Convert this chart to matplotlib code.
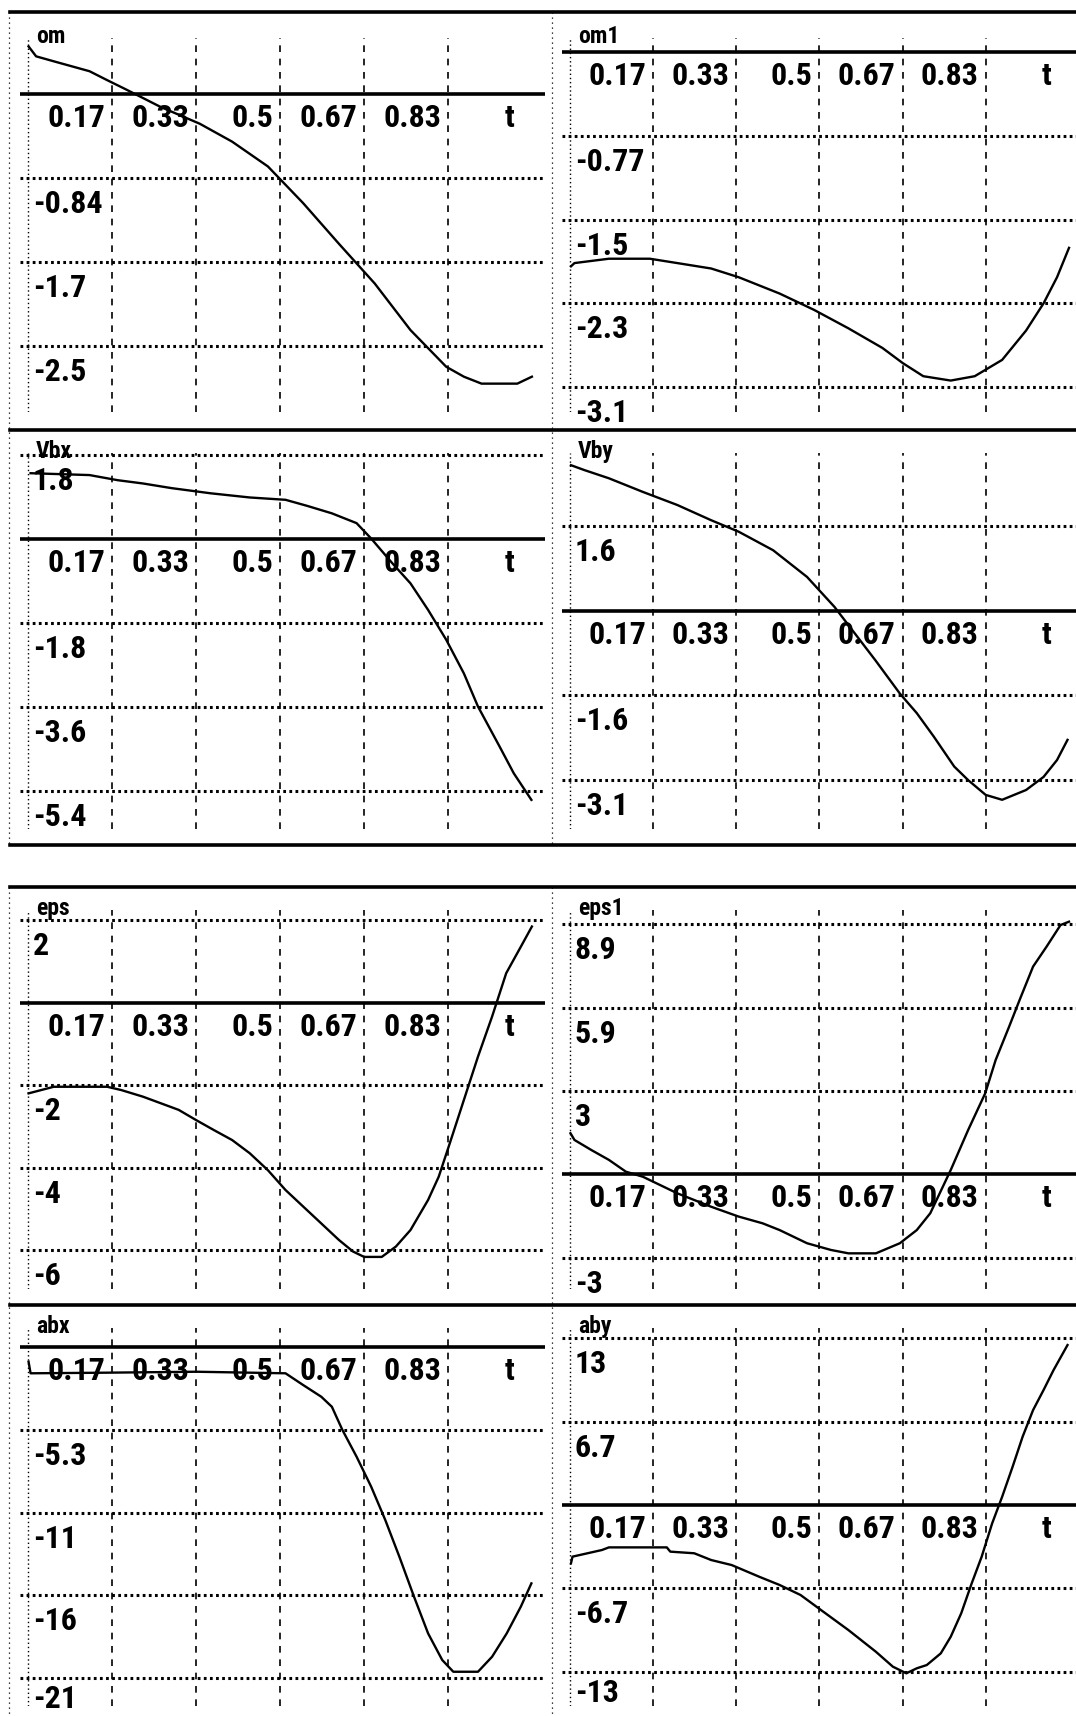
import matplotlib
matplotlib.use('Agg')
import matplotlib.pyplot as plt
from matplotlib import font_manager
from matplotlib.lines import Line2D

W, H = 1076, 1716

# pick the narrowest installed face for the tall printer digits
font_names = {f.name for f in font_manager.fontManager.ttflist}
if 'Liberation Sans Narrow' in font_names:
    fam, num_size, name_size = 'Liberation Sans Narrow', 24, 18
elif 'Roboto Condensed' in font_names:
    fam, num_size, name_size = 'Roboto Condensed', 23, 17
else:
    fam, num_size, name_size = 'Liberation Sans', 21, 16
plt.rcParams['font.family'] = [fam, 'DejaVu Sans']

# shared time axis
t_ticks = [1/6, 2/6, 3/6, 4/6, 5/6]
t_labels = ['0.17', '0.33', '0.5', '0.67', '0.83']

# om
t_om = [0.001, 0.016, 0.051, 0.122, 0.157, 0.193, 0.263, 0.341, 0.405, 0.476,
        0.546, 0.617, 0.688, 0.759, 0.830, 0.865, 0.900, 0.971, 1.0]
om = [0.48, 0.38, 0.33, 0.23, 0.14, 0.05, -0.13, -0.30, -0.48, -0.73,
      -1.10, -1.51, -1.91, -2.38, -2.75, -2.85, -2.92, -2.92, -2.85]

# om1
t_om1 = [0.002, 0.009, 0.078, 0.160, 0.215, 0.283, 0.338, 0.420, 0.489, 0.558,
         0.626, 0.667, 0.708, 0.763, 0.811, 0.866, 0.914, 0.949, 0.976, 1.0]
om1 = [-1.97, -1.94, -1.90, -1.90, -1.94, -1.99, -2.07, -2.22, -2.37, -2.54,
       -2.72, -2.86, -2.98, -3.02, -2.98, -2.83, -2.56, -2.31, -2.07, -1.80]

# Vbx
t_vbx = [0.005, 0.122, 0.178, 0.228, 0.285, 0.362, 0.440, 0.511, 0.554, 0.603,
         0.652, 0.681, 0.723, 0.759, 0.794, 0.830, 0.865, 0.893, 0.936, 0.964, 0.999]
vbx = [1.41, 1.37, 1.26, 1.19, 1.09, 0.98, 0.89, 0.84, 0.71, 0.55,
       0.34, 0.01, -0.52, -0.95, -1.52, -2.16, -2.88, -3.59, -4.45, -5.02, -5.59]

# Vby
t_vby = [0.002, 0.029, 0.078, 0.146, 0.215, 0.283, 0.338, 0.407, 0.475, 0.530,
         0.571, 0.612, 0.661, 0.695, 0.729, 0.770, 0.798, 0.833, 0.866, 0.914,
         0.949, 0.976, 0.997]
vby = [2.67, 2.58, 2.43, 2.18, 1.94, 1.66, 1.45, 1.11, 0.62, 0.07,
       -0.42, -0.91, -1.52, -1.88, -2.31, -2.86, -3.11, -3.38, -3.47, -3.29,
       -3.05, -2.74, -2.37]

# eps
t_eps = [0.001, 0.051, 0.157, 0.185, 0.228, 0.299, 0.334, 0.369, 0.405, 0.440,
         0.476, 0.511, 0.546, 0.582, 0.617, 0.645, 0.667, 0.702, 0.730, 0.759,
         0.794, 0.815, 0.837, 0.865, 0.893, 0.921, 0.949, 0.978, 1.0]
eps = [-2.20, -2.04, -2.04, -2.12, -2.28, -2.60, -2.85, -3.09, -3.33, -3.65,
       -4.06, -4.54, -4.94, -5.35, -5.75, -6.03, -6.16, -6.16, -5.91, -5.51,
       -4.78, -4.22, -3.41, -2.36, -1.31, -0.34, 0.71, 1.35, 1.84]

# eps1
t_eps1 = [0.001, 0.009, 0.043, 0.078, 0.112, 0.146, 0.215, 0.283, 0.338, 0.386,
          0.420, 0.475, 0.523, 0.558, 0.613, 0.661, 0.695, 0.722, 0.763, 0.798,
          0.832, 0.853, 0.880, 0.901, 0.928, 0.955, 0.983, 1.0]
eps1 = [1.47, 1.23, 0.87, 0.52, 0.10, -0.08, -0.67, -1.15, -1.50, -1.74,
        -1.98, -2.45, -2.69, -2.81, -2.81, -2.45, -1.98, -1.38, 0.16, 1.59,
        2.89, 4.08, 5.27, 6.22, 7.41, 8.12, 8.89, 9.01]

# abx
t_abx = [0.001, 0.005, 0.157, 0.334, 0.511, 0.546, 0.582, 0.603, 0.624, 0.652,
         0.681, 0.709, 0.737, 0.766, 0.794, 0.822, 0.844, 0.893, 0.921, 0.950,
         0.978, 0.999]
abx = [-0.96, -1.70, -1.66, -1.60, -1.70, -2.45, -3.20, -3.84, -5.33, -7.03,
       -8.95, -11.08, -13.43, -15.98, -18.33, -20.03, -20.78, -20.78, -19.82, -18.33,
       -16.62, -15.13]

# aby
t_aby = [0.002, 0.005, 0.064, 0.078, 0.194, 0.201, 0.249, 0.283, 0.324, 0.379,
         0.420, 0.462, 0.503, 0.558, 0.613, 0.647, 0.674, 0.695, 0.715, 0.743,
         0.763, 0.784, 0.805, 0.825, 0.846, 0.866, 0.887, 0.907, 0.928, 0.949,
         0.969, 0.997]
aby = [-4.65, -4.12, -3.59, -3.38, -3.38, -3.72, -3.85, -4.39, -4.79, -5.72,
       -6.38, -7.18, -8.38, -9.98, -11.71, -12.90, -13.43, -13.03, -12.77, -11.84,
       -10.51, -8.64, -6.25, -4.12, -1.46, 0.66, 3.06, 5.45, 7.58, 9.18,
       10.77, 12.77]

names = ['om', 'om1', 'Vbx', 'Vby', 'eps', 'eps1', 'abx', 'aby']
curves_t = [t_om, t_om1, t_vbx, t_vby, t_eps, t_eps1, t_abx, t_aby]
curves_v = [om, om1, vbx, vby, eps, eps1, abx, aby]

# horizontal grid levels and the printed labels
grid_vals = [[-0.847, -1.694, -2.541],
             [-0.77, -1.54, -2.31, -3.08],
             [1.8, -1.8, -3.6, -5.4],
             [1.55, -1.55, -3.1],
             [2, -2, -4, -6],
             [8.91, 5.94, 2.97, -2.97],
             [-5.3, -10.6, -15.9, -21.2],
             [13.3, 6.65, -6.65, -13.3]]
grid_labels = [['-0.84', '-1.7', '-2.5'],
               ['-0.77', '-1.5', '-2.3', '-3.1'],
               ['1.8', '-1.8', '-3.6', '-5.4'],
               ['1.6', '-1.6', '-3.1'],
               ['2', '-2', '-4', '-6'],
               ['8.9', '5.9', '3', '-3'],
               ['-5.3', '-11', '-16', '-21'],
               ['13', '6.7', '-6.7', '-13']]

ylims = [(-3.206, 0.565), (-3.309, 0.129), (-6.214, 1.843), (-4.006, 2.894),
         (-6.937, 2.240), (-4.081, 9.426), (-22.97, 1.196), (-16.04, 14.13)]

# layout in pixels
col_x = [(20, 545), (562, 1076)]
xlims = [(-0.016, 1.026), (-0.016, 1.014)]
row_y = [(38, 412), (453, 829), (910, 1289), (1328, 1706)]

fig = plt.figure(figsize=(W / 100, H / 100), dpi=100)
fig.patch.set_facecolor('white')

num_font = dict(fontsize=num_size, fontweight='bold', color='black')
name_font = dict(fontsize=name_size, fontweight='bold', color='black')

for i in range(8):
    col, row = i % 2, i // 2
    x0, x1 = col_x[col]
    y0, y1 = row_y[row]
    ax = fig.add_axes([x0 / W, 1 - y1 / H, (x1 - x0) / W, (y1 - y0) / H])
    ax.set_xlim(*xlims[col])
    ax.set_ylim(*ylims[i])
    ax.set_axis_off()

    # grid
    for g in grid_vals[i]:
        ax.axhline(g, color='black', lw=2.2, ls=(0, (0.9, 1.1)))
    for tt in t_ticks:
        ax.axvline(tt, color='black', lw=1.2, ls=(0, (4, 4)))
    ax.axvline(0, color='black', lw=1.0, ls=(0, (1, 2)))
    ax.axhline(0, color='black', lw=2.6)

    ax.plot(curves_t[i], curves_v[i], color='black', lw=1.7)

    # t axis labels
    for tt, lab in zip(t_ticks, t_labels):
        ax.annotate(lab, (tt, 0), xytext=(-7, -9), textcoords='offset pixels',
                    ha='right', va='top', **num_font)
    ax.annotate('t', (0.955, 0), xytext=(0, -9), textcoords='offset pixels',
                ha='center', va='top', **num_font)

    # value labels under grid lines
    for g, lab in zip(grid_vals[i], grid_labels[i]):
        dy = -11
        if row == 3 and g == min(grid_vals[i]):
            dy = -6   # keep the last label inside the page
        ax.annotate(lab, (0, g), xytext=(5, dy), textcoords='offset pixels',
                    ha='left', va='top', **num_font)

    ax.annotate(names[i], (0, 1), xycoords=('data', 'axes fraction'),
                xytext=(8, -10), textcoords='offset pixels',
                ha='left', va='bottom', **name_font)

# page borders
for yb in [12, 430, 845, 887, 1305]:
    fig.add_artist(Line2D([10 / W, 1], [1 - yb / H] * 2, color='black', lw=2.6))
for xb in [9, 552]:
    for ya, yb in [(12, 845), (887, 1716)]:
        fig.add_artist(Line2D([xb / W] * 2, [1 - ya / H, 1 - yb / H],
                              color='black', lw=0.9, ls=(0, (1, 3))))

fig.savefig('out.png', dpi=100, facecolor='white')
